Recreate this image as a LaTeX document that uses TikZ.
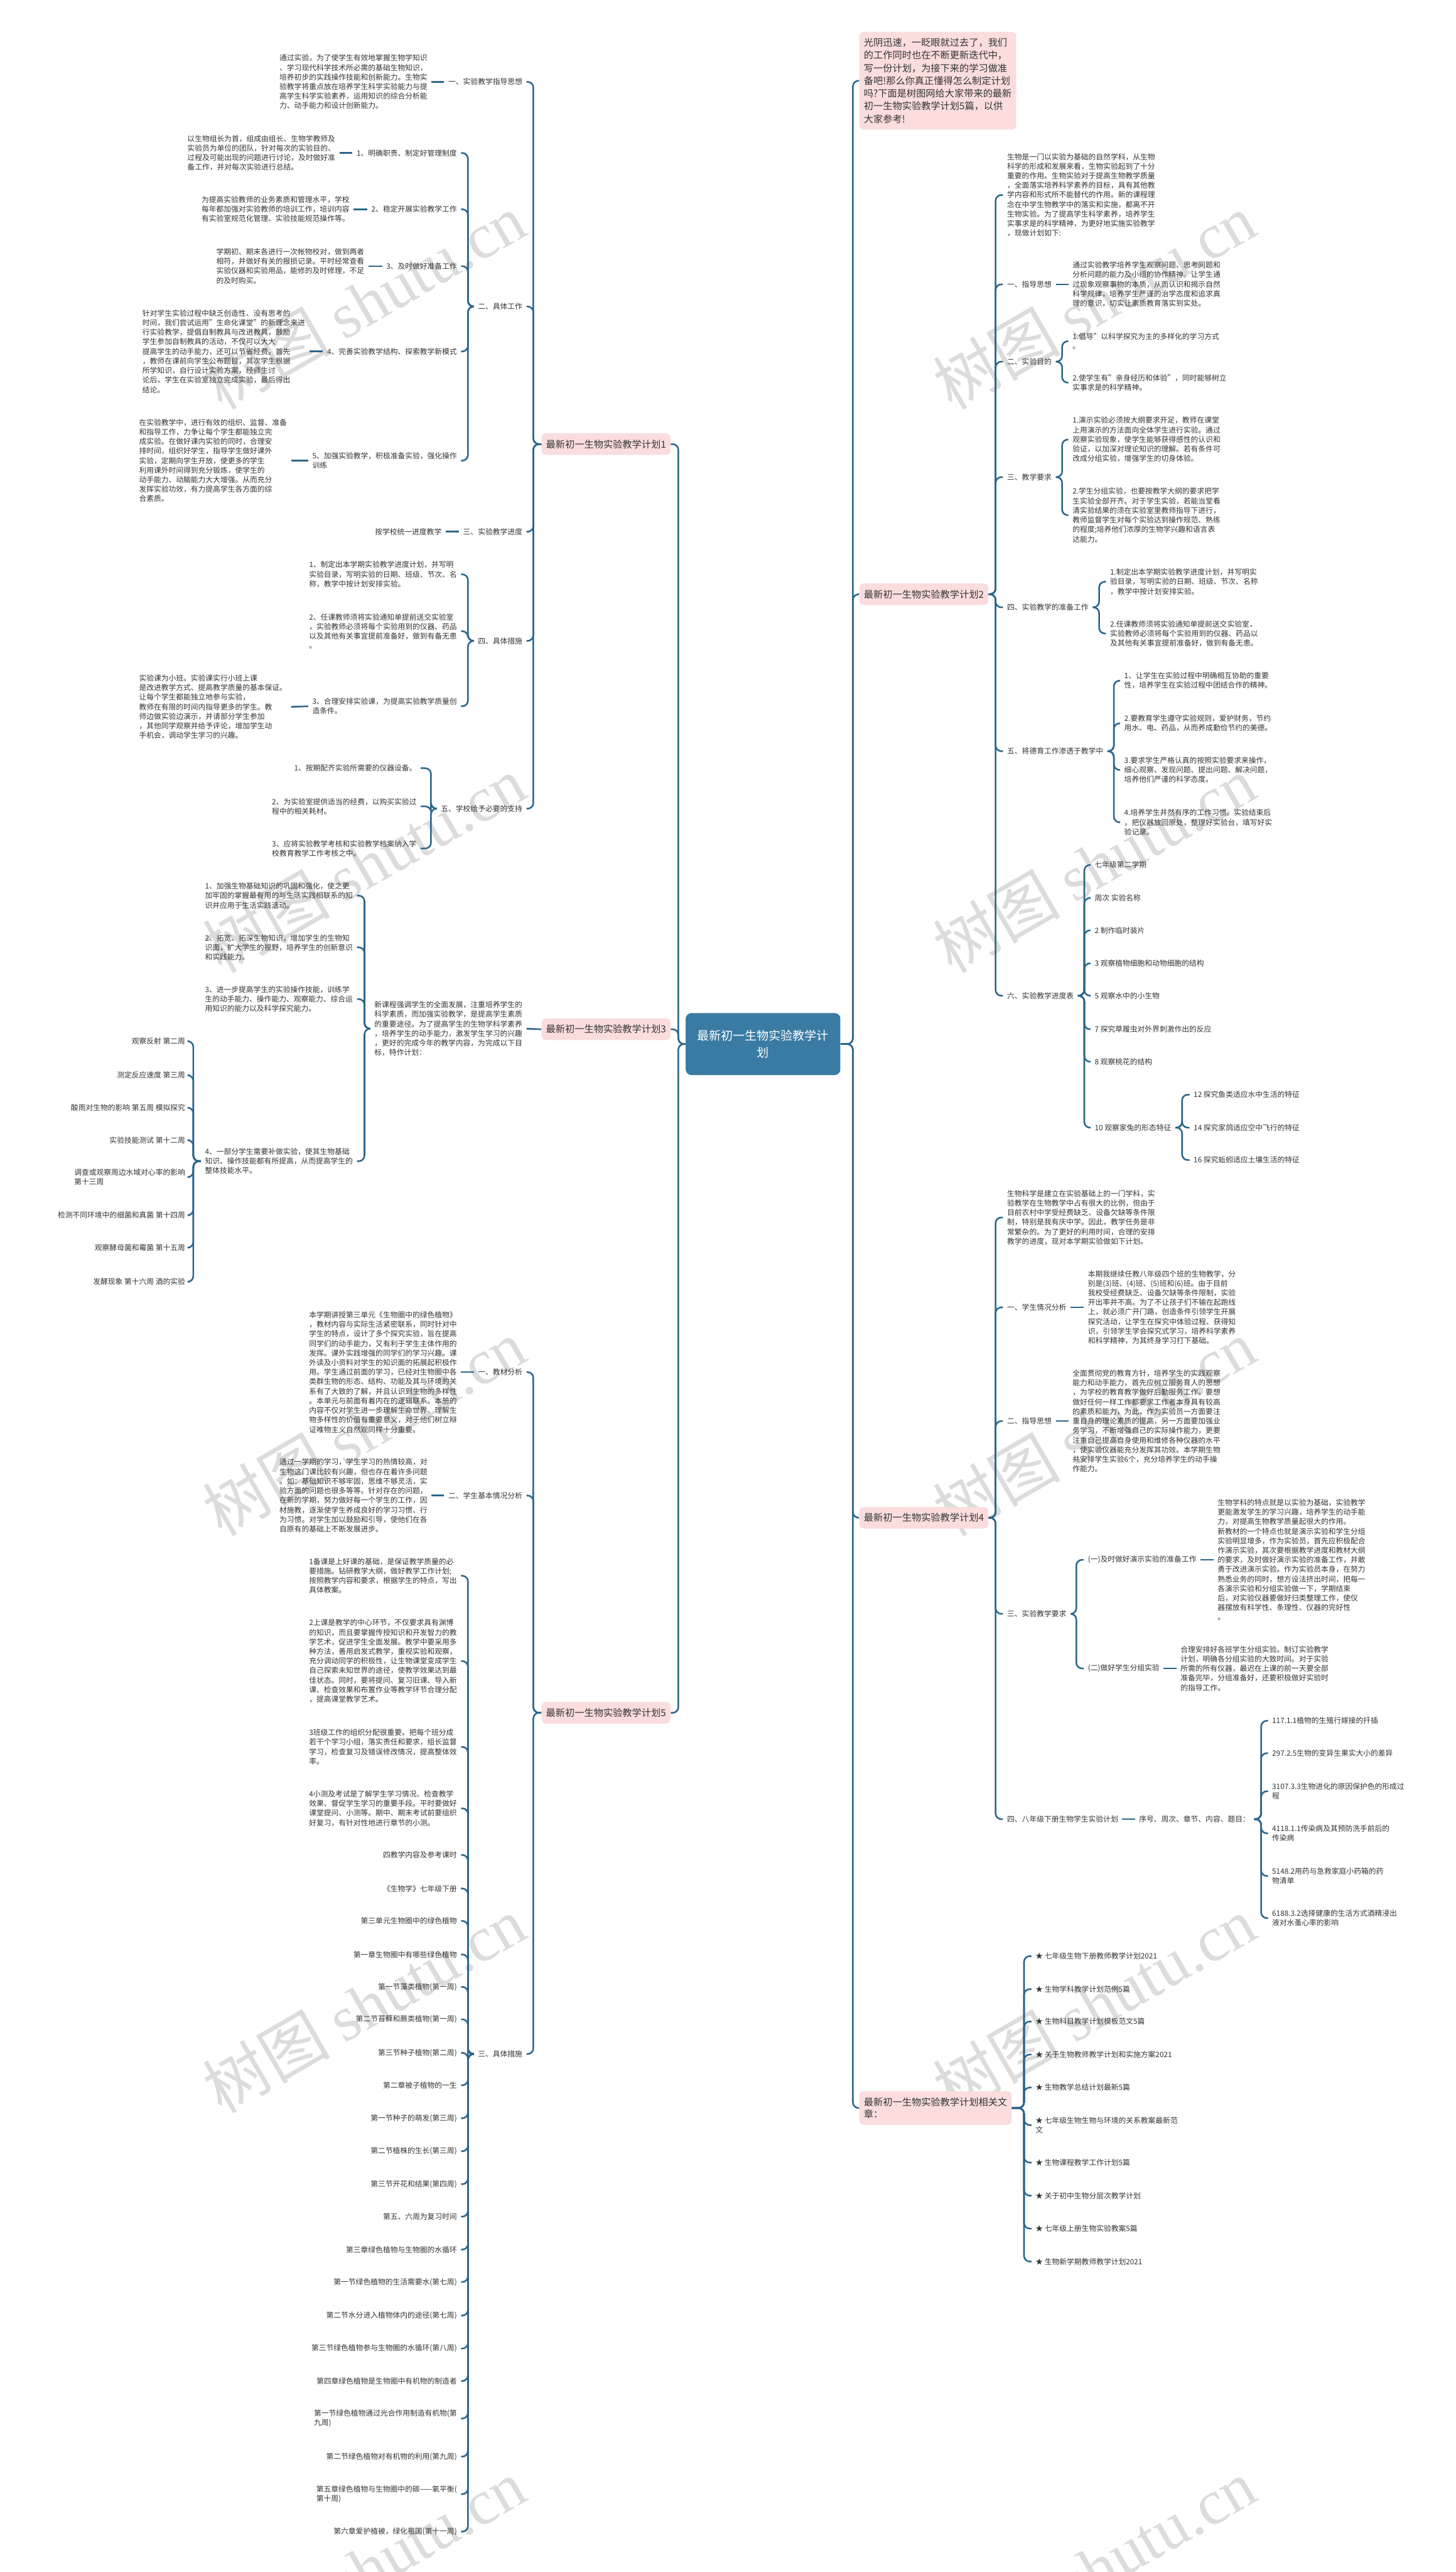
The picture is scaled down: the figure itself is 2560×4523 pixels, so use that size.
\documentclass[tikz,border=0pt]{standalone}
\usepackage{fontspec}
\setmainfont{Noto Sans CJK SC}
\newfontfamily\wmlat{Liberation Serif}
\usetikzlibrary{calc}
\definecolor{linkc}{RGB}{44,101,138}
\definecolor{txtc}{RGB}{51,51,51}
\definecolor{pinkc}{RGB}{251,221,221}
\definecolor{cenc}{RGB}{58,123,163}
\definecolor{wmc}{RGB}{220,220,220}
\tikzset{
  t/.style={font=\fontsize{6.5pt}{8.4pt}\selectfont, text=txtc, align=left, inner xsep=3.5pt, inner ysep=1pt},
  pink/.style={fill=pinkc, rounded corners=4pt, font=\fontsize{8.4pt}{11.2pt}\selectfont, text=txtc, align=left, inner xsep=4pt, inner ysep=0pt, minimum height=19pt},
  cen/.style={fill=cenc, text=white, rounded corners=5pt, align=center, font=\fontsize{10.5pt}{15pt}\selectfont, minimum width=136pt, minimum height=54.5pt, inner sep=0pt},
  link/.style={draw=linkc, line width=1.4pt, rounded corners=5pt},
  wm/.style={text=wmc, rotate=30, font=\fontsize{56pt}{60pt}\selectfont, inner sep=0pt}
}
\newcommand\lkL[3]{\draw[link] (#1.west) -- (#1.west -| #2) |- (#3.east);}
\newcommand\lkR[3]{\draw[link] (#1.east) -- (#1.east -| #2) |- (#3.west);}
\newcommand\lsL[2]{\draw[link] (#1.west) -- (#2.east);}
\newcommand\lsR[2]{\draw[link] (#1.east) -- (#2.west);}
\begin{document}
\begin{tikzpicture}[x=0.5pt,y=-0.5pt]
\useasboundingbox (0,0) rectangle (2560,4523);
\fill[white] (0,0) rectangle (2560,4523);
% watermarks
\foreach \wy [count=\i] in {530,1520,2510,3525,4515}{
  \node[wm] (wl\i) at (640,\wy) {树图 {\wmlat shutu.cn}};
  \node[wm] (wr\i) at (1924,\wy) {树图 {\wmlat shutu.cn}};
}
% buses
\coordinate (bLm) at (1193,0); \coordinate (bRm) at (1500,0);
\coordinate (b1) at (938,0); \coordinate (b1b) at (823,0); \coordinate (b1e) at (758,0);
\coordinate (b3) at (641,0); \coordinate (b3d) at (340,0);
\coordinate (b5c) at (823,0);
\coordinate (b2) at (1751,0); \coordinate (b2b) at (1868,0); \coordinate (b2d) at (1933,0);
\coordinate (b2e) at (1959,0); \coordinate (b2f) at (1907,0); \coordinate (b2g) at (2079,0);
\coordinate (b4c) at (1893,0); \coordinate (b4d) at (2218,0); \coordinate (b6) at (1801,0);

% central
\node[cen] (C) at (1342,1836) {最新初一生物实验教学计\\划};

% main branches
\node[pink, anchor=west] (B1) at (952,781) {最新初一生物实验教学计划1};
\node[pink, anchor=west] (B3) at (952,1810) {最新初一生物实验教学计划3};
\node[pink, anchor=west] (B5) at (952,3012) {最新初一生物实验教学计划5};
\node[pink, anchor=west, inner ysep=5.5pt] (N) at (1511,142) {光阴迅速，一眨眼就过去了，我们\\的工作同时也在不断更新迭代中，\\写一份计划，为接下来的学习做准\\备吧!那么你真正懂得怎么制定计划\\吗?下面是树图网给大家带来的最新\\初一生物实验教学计划5篇，以供\\大家参考!};
\node[pink, anchor=west] (B2) at (1511,1045) {最新初一生物实验教学计划2};
\node[pink, anchor=west] (B4) at (1511,2669) {最新初一生物实验教学计划4};
\node[pink, anchor=west, minimum height=29.5pt, font=\fontsize{8.4pt}{10.7pt}\selectfont] (B6) at (1511,3707) {最新初一生物实验教学计划相关文\\章：};
\lkL{C}{bLm}{B1} \lkL{C}{bLm}{B3} \lkL{C}{bLm}{B5}
\lkR{C}{bRm}{N} \lkR{C}{bRm}{B2} \lkR{C}{bRm}{B4} \lkR{C}{bRm}{B6}

% ===== plan 1 =====
\node[t, anchor=east] (a1) at (926,144) {一、实验教学指导思想};
\node[t, anchor=east] (a1p) at (759,144) {通过实验，为了使学生有效地掌握生物学知识\\、学习现代科学技术所必需的基础生物知识，\\培养初步的实践操作技能和创新能力。生物实\\验教学将重点放在培养学生科学实验能力与提\\高学生科学实验素养，运用知识的综合分析能\\力、动手能力和设计创新能力。};
\lkL{B1}{b1}{a1} \lsL{a1}{a1p}
\node[t, anchor=east] (a2) at (926,539) {二、具体工作};
\lkL{B1}{b1}{a2}
\node[t, anchor=east] (a2c1) at (811,269) {1、明确职责、制定好管理制度};
\node[t, anchor=east] (a2p1) at (597,269) {以生物组长为首，组成由组长、生物学教师及\\实验员为单位的团队，针对每次的实验目的、\\过程及可能出现的问题进行讨论，及时做好准\\备工作，并对每次实验进行总结。};
\node[t, anchor=east] (a2c2) at (811,368) {2、稳定开展实验教学工作};
\node[t, anchor=east] (a2p2) at (622,368) {为提高实验教师的业务素质和管理水平，学校\\每年都加强对实验教师的培训工作，培训内容\\有实验室规范化管理、实验技能规范操作等。};
\node[t, anchor=east] (a2c3) at (811,468) {3、及时做好准备工作};
\node[t, anchor=east] (a2p3) at (648,468) {学期初、期末各进行一次帐物校对，做到两者\\相符，并做好有关的报损记录。平时经常查看\\实验仪器和实验用品，能修的及时修理，不足\\的及时购买。};
\node[t, anchor=east] (a2c4) at (811,618) {4、完善实验教学结构、探索教学新模式};
\node[t, anchor=east] (a2p4) at (544,618) {针对学生实验过程中缺乏创造性、没有思考的\\时间，我们尝试运用"生命化课堂"的新理念来进\\行实验教学，提倡自制教具与改进教具，鼓励\\学生参加自制教具的活动，不仅可以大大\\提高学生的动手能力，还可以节省经费。首先\\，教师在课前向学生公布题目，其次学生根据\\所学知识，自行设计实验方案，经师生讨\\论后，学生在实验室独立完成实验，最后得出\\结论。};
\node[t, anchor=east] (a2c5) at (811,810) {5、加强实验教学，积极准备实验，强化操作\\训练};
\node[t, anchor=east] (a2p5) at (512,810) {在实验教学中，进行有效的组织、监督、准备\\和指导工作，力争让每个学生都能独立完\\成实验。在做好课内实验的同时，合理安\\排时间，组织好学生，指导学生做好课外\\实验，定期向学生开放，使更多的学生\\利用课外时间得到充分锻炼，使学生的\\动手能力、动脑能力大大增强。从而充分\\发挥实验功效，有力提高学生各方面的综\\合素质。};
\foreach \k in {1,...,5}{\lkL{a2}{b1b}{a2c\k} \lsL{a2c\k}{a2p\k}}
\node[t, anchor=east] (a3) at (926,935) {三、实验教学进度};
\node[t, anchor=east] (a3p) at (784,935) {按学校统一进度教学};
\lkL{B1}{b1}{a3} \lsL{a3}{a3p}
\node[t, anchor=east] (a4) at (926,1127) {四、具体措施};
\lkL{B1}{b1}{a4}
\node[t, anchor=east] (a4c1) at (811,1010) {1、制定出本学期实验教学进度计划，并写明\\实验目录，写明实验的日期、班级、节次、名\\称，教学中按计划安排实验。};
\node[t, anchor=east] (a4c2) at (811,1110) {2、任课教师须将实验通知单提前送交实验室\\，实验教师必须将每个实验用到的仪器、药品\\以及其他有关事宜提前准备好，做到有备无患\\。};
\node[t, anchor=east] (a4c3) at (811,1242) {3、合理安排实验课，为提高实验教学质量创\\造条件。};
\node[t, anchor=east] (a4p3) at (512,1243) {实验课为小班。实验课实行小班上课\\是改进教学方式、提高教学质量的基本保证。\\让每个学生都能独立地参与实验，\\教师在有限的时间内指导更多的学生。教\\师边做实验边演示，并请部分学生参加\\，其他同学观察并给予评论，增加学生动\\手机会，调动学生学习的兴趣。};
\foreach \k in {1,2,3}{\lkL{a4}{b1b}{a4c\k}}
\lsL{a4c3}{a4p3}
\node[t, anchor=east] (a5) at (926,1422) {五、学校给予必要的支持};
\lkL{B1}{b1}{a5}
\node[t, anchor=east] (a5c1) at (740,1351) {1、按期配齐实验所需要的仪器设备。};
\node[t, anchor=east] (a5c2) at (740,1418) {2、为实验室提供适当的经费，以购买实验过\\程中的相关耗材。};
\node[t, anchor=east] (a5c3) at (740,1492) {3、应将实验教学考核和实验教学档案纳入学\\校教育教学工作考核之中。};
\foreach \k in {1,2,3}{\lkL{a5}{b1e}{a5c\k}}

% ===== plan 3 =====
\node[t, anchor=east] (c0) at (926,1809) {新课程强调学生的全面发展，注重培养学生的\\科学素质，而加强实验教学，是提高学生素质\\的重要途径。为了提高学生的生物学科学素养\\，培养学生的动手能力，激发学生学习的兴趣\\，更好的完成今年的教学内容，为完成以下目\\标，特作计划：};
\lsL{B3}{c0}
\node[t, anchor=east] (c1) at (628,1575) {1、加强生物基础知识的巩固和强化，使之更\\加牢固的掌握最有用的与生活实践相联系的知\\识并应用于生活实践活动。};
\node[t, anchor=east] (c2) at (628,1666) {2、拓宽、拓深生物知识，增加学生的生物知\\识面，扩大学生的视野，培养学生的创新意识\\和实践能力。};
\node[t, anchor=east] (c3) at (628,1757) {3、进一步提高学生的实验操作技能，训练学\\生的动手能力、操作能力、观察能力、综合运\\用知识的能力以及科学探究能力。};
\node[t, anchor=east] (c4) at (628,2042) {4、一部分学生需要补做实验，使其生物基础\\知识、操作技能都有所提高，从而提高学生的\\整体技能水平。};
\foreach \k in {1,...,4}{\lkL{c0}{b3}{c\k}}
\node[t, anchor=east] (d1) at (333,1831) {观察反射 第二周};
\node[t, anchor=east] (d2) at (333,1891) {测定反应速度 第三周};
\node[t, anchor=east] (d3) at (333,1948) {酸雨对生物的影响 第五周 模拟探究};
\node[t, anchor=east] (d4) at (333,2005) {实验技能测试 第十二周};
\node[t, anchor=east] (d5) at (333,2070) {调查或观察周边水域对心率的影响\\第十三周};
\node[t, anchor=east] (d6) at (333,2137) {检测不同环境中的细菌和真菌 第十四周};
\node[t, anchor=east] (d7) at (333,2194) {观察酵母菌和霉菌 第十五周};
\node[t, anchor=east] (d8) at (333,2254) {发酵现象 第十六周 酒的实验};
\foreach \k in {1,...,8}{\lkL{c4}{b3d}{d\k}}

% ===== plan 5 =====
\node[t, anchor=east] (e1) at (926,2413) {一、教材分析};
\node[t, anchor=east] (e1p) at (811,2413) {本学期讲授第三单元《生物圈中的绿色植物》\\，教材内容与实际生活紧密联系，同时针对中\\学生的特点，设计了多个探究实验，旨在提高\\同学们的动手能力，又有利于学生主体作用的\\发挥。课外实践增强的同学们的学习兴趣。课\\外读及小资料对学生的知识面的拓展起积极作\\用。学生通过前面的学习，已经对生物圈中各\\类群生物的形态、结构、功能及其与环境的关\\系有了大致的了解，并且认识到生物的多样性\\。本单元与前面有着内在的逻辑联系。本册的\\内容不仅对学生进一步理解生命世界、理解生\\物多样性的价值有重要意义，对于他们树立辩\\证唯物主义自然观同样十分重要。};
\lkL{B5}{b1}{e1} \lsL{e1}{e1p}
\node[t, anchor=east] (e2) at (926,2630) {二、学生基本情况分析};
\node[t, anchor=east] (e2p) at (759,2630) {通过一学期的学习，学生学习的热情较高，对\\生物这门课比较有兴趣，但也存在着许多问题\\。如：基础知识不够牢固，思维不够灵活，实\\验方面的问题也很多等等。针对存在的问题，\\在新的学期，努力做好每一个学生的工作，因\\材施教，逐渐使学生养成良好的学习习惯、行\\为习惯。对学生加以鼓励和引导，使他们在各\\自原有的基础上不断发展进步。};
\lkL{B5}{b1}{e2} \lsL{e2}{e2p}
\node[t, anchor=east] (e3) at (926,3612) {三、具体措施};
\lkL{B5}{b1}{e3}
\node[t, anchor=east] (f1) at (811,2771) {1备课是上好课的基础，是保证教学质量的必\\要措施。钻研教学大纲，做好教学工作计划;\\按照教学内容和要求，根据学生的特点，写出\\具体教案。};
\node[t, anchor=east] (f2) at (811,2921) {2上课是教学的中心环节，不仅要求具有渊博\\的知识，而且要掌握传授知识和开发智力的教\\学艺术，促进学生全面发展。教学中要采用多\\种方法，善用启发式教学，重视实验和观察，\\充分调动同学的积极性，让生物课堂变成学生\\自己探索未知世界的途径，使教学效果达到最\\佳状态。同时，要将提问、复习旧课、导入新\\课、检查效果和布置作业等教学环节合理分配\\，提高课堂教学艺术。};
\node[t, anchor=east] (f3) at (811,3072) {3班级工作的组织分配很重要。把每个班分成\\若干个学习小组，落实责任和要求，组长监督\\学习，检查复习及错误修改情况，提高整体效\\率。};
\node[t, anchor=east] (f4) at (811,3180) {4小测及考试是了解学生学习情况、检查教学\\效果、督促学生学习的重要手段。平时要做好\\课堂提问、小测等。期中、期末考试前要组织\\好复习，有针对性地进行章节的小测。};
\node[t, anchor=east] (f5) at (811,3262) {四教学内容及参考课时};
\node[t, anchor=east] (f6) at (811,3321) {《生物学》七年级下册};
\node[t, anchor=east] (f7) at (811,3378) {第三单元生物圈中的绿色植物};
\node[t, anchor=east] (f8) at (811,3437) {第一章生物圈中有哪些绿色植物};
\node[t, anchor=east] (f9) at (811,3494) {第一节藻类植物(第一周)};
\node[t, anchor=east] (f10) at (811,3551) {第二节苔藓和蕨类植物(第一周)};
\node[t, anchor=east] (f11) at (811,3610) {第三节种子植物(第二周)};
\node[t, anchor=east] (f12) at (811,3667) {第二章被子植物的一生};
\node[t, anchor=east] (f13) at (811,3725) {第一节种子的萌发(第三周)};
\node[t, anchor=east] (f14) at (811,3783) {第二节植株的生长(第三周)};
\node[t, anchor=east] (f15) at (811,3841) {第三节开花和结果(第四周)};
\node[t, anchor=east] (f16) at (811,3898) {第五、六周为复习时间};
\node[t, anchor=east] (f17) at (811,3956) {第三章绿色植物与生物圈的水循环};
\node[t, anchor=east] (f18) at (811,4013) {第一节绿色植物的生活需要水(第七周)};
\node[t, anchor=east] (f19) at (811,4072) {第二节水分进入植物体内的途径(第七周)};
\node[t, anchor=east] (f20) at (811,4130) {第三节绿色植物参与生物圈的水循环(第八周)};
\node[t, anchor=east] (f21) at (811,4187) {第四章绿色植物是生物圈中有机物的制造者};
\node[t, anchor=east] (f22) at (811,4253) {第一节绿色植物通过光合作用制造有机物(第\\九周)};
\node[t, anchor=east] (f23) at (811,4320) {第二节绿色植物对有机物的利用(第九周)};
\node[t, anchor=east] (f24) at (811,4386) {第五章绿色植物与生物圈中的碳——氧平衡(\\第十周)};
\node[t, anchor=east] (f25) at (811,4452) {第六章爱护植被，绿化祖国(第十一周)};
\foreach \k in {1,...,25}{\lkL{e3}{b5c}{f\k}}

% ===== plan 2 =====
\node[t, anchor=west] (r0) at (1764,343) {生物是一门以实验为基础的自然学科，从生物\\科学的形成和发展来看，生物实验起到了十分\\重要的作用。生物实验对于提高生物教学质量\\，全面落实培养科学素养的目标，具有其他教\\学内容和形式所不能替代的作用。新的课程理\\念在中学生物教学中的落实和实施，都离不开\\生物实验。为了提高学生科学素养，培养学生\\实事求是的科学精神，为更好地实施实验教学\\，现做计划如下:};
\lkR{B2}{b2}{r0}
\node[t, anchor=west] (r1) at (1764,500) {一、指导思想};
\node[t, anchor=west] (r1p) at (1879,500) {通过实验教学培养学生观察问题、思考问题和\\分析问题的能力及小组的协作精神。让学生通\\过现象观察事物的本质，从而认识和揭示自然\\科学规律，培养学生严谨的治学态度和追求真\\理的意识，切实让素质教育落实到实处。};
\lkR{B2}{b2}{r1} \lsR{r1}{r1p}
\node[t, anchor=west] (r2) at (1764,636) {二、实验目的};
\node[t, anchor=west] (r2a) at (1879,600) {1.倡导"以科学探究为主的多样化的学习方式\\。};
\node[t, anchor=west] (r2b) at (1879,673) {2.使学生有"亲身经历和体验"，同时能够树立\\实事求是的科学精神。};
\lkR{B2}{b2}{r2} \lkR{r2}{b2b}{r2a} \lkR{r2}{b2b}{r2b}
\node[t, anchor=west] (r3) at (1764,839) {三、教学要求};
\node[t, anchor=west] (r3a) at (1879,773) {1.演示实验必须按大纲要求开足，教师在课堂\\上用演示的方法面向全体学生进行实验。通过\\观察实验现象，使学生能够获得感性的认识和\\验证，以加深对理论知识的理解。若有条件可\\改成分组实验，增强学生的切身体验。};
\node[t, anchor=west] (r3b) at (1879,906) {2.学生分组实验，也要按教学大纲的要求把学\\生实验全部开齐。对于学生实验，若能当堂看\\清实验结果的须在实验室里教师指导下进行，\\教师监督学生对每个实验达到操作规范、熟练\\的程度;培养他们浓厚的生物学兴趣和语言表\\达能力。};
\lkR{B2}{b2}{r3} \lkR{r3}{b2b}{r3a} \lkR{r3}{b2b}{r3b}
\node[t, anchor=west] (r4) at (1764,1068) {四、实验教学的准备工作};
\node[t, anchor=west] (r4a) at (1945,1023) {1.制定出本学期实验教学进度计划，并写明实\\验目录，写明实验的日期、班级、节次、名称\\，教学中按计划安排实验。};
\node[t, anchor=west] (r4b) at (1945,1114) {2.任课教师须将实验通知单提前送交实验室，\\实验教师必须将每个实验用到的仪器、药品以\\及其他有关事宜提前准备好，做到有备无患。};
\lkR{B2}{b2}{r4} \lkR{r4}{b2d}{r4a} \lkR{r4}{b2d}{r4b}
\node[t, anchor=west] (r5) at (1764,1321) {五、将德育工作渗透于教学中};
\node[t, anchor=west] (r5a) at (1970,1197) {1、让学生在实验过程中明确相互协助的重要\\性，培养学生在实验过程中团结合作的精神。};
\node[t, anchor=west] (r5b) at (1970,1272) {2.要教育学生遵守实验规则，爱护财务，节约\\用水、电、药品，从而养成勤俭节约的美德。};
\node[t, anchor=west] (r5c) at (1970,1354) {3.要求学生严格认真的按照实验要求来操作，\\细心观察、发现问题、提出问题、解决问题，\\培养他们严谨的科学态度。};
\node[t, anchor=west] (r5d) at (1970,1446) {4.培养学生井然有序的工作习惯。实验结束后\\，把仪器放回原处，整理好实验台，填写好实\\验记录。};
\lkR{B2}{b2}{r5}
\foreach \k in {a,b,c,d}{\lkR{r5}{b2e}{r5\k}}
\node[t, anchor=west] (r6) at (1764,1751) {六、实验教学进度表};
\lkR{B2}{b2}{r6}
\node[t, anchor=west] (r6a) at (1918,1521) {七年级第二学期};
\node[t, anchor=west] (r6b) at (1918,1579) {周次 实验名称};
\node[t, anchor=west] (r6c) at (1918,1636) {2 制作临时装片};
\node[t, anchor=west] (r6d) at (1918,1694) {3 观察植物细胞和动物细胞的结构};
\node[t, anchor=west] (r6e) at (1918,1751) {5 观察水中的小生物};
\node[t, anchor=west] (r6f) at (1918,1810) {7 探究草履虫对外界刺激作出的反应};
\node[t, anchor=west] (r6g) at (1918,1867) {8 观察桃花的结构};
\node[t, anchor=west] (r6h) at (1918,1983) {10 观察家兔的形态特征};
\foreach \k in {a,b,c,d,e,f,g,h}{\lkR{r6}{b2f}{r6\k}}
\node[t, anchor=west] (r6h1) at (2092,1925) {12 探究鱼类适应水中生活的特征};
\node[t, anchor=west] (r6h2) at (2092,1983) {14 探究家鸽适应空中飞行的特征};
\node[t, anchor=west] (r6h3) at (2092,2040) {16 探究蚯蚓适应土壤生活的特征};
\foreach \k in {1,2,3}{\lkR{r6h}{b2g}{r6h\k}}

% ===== plan 4 =====
\node[t, anchor=west] (s0) at (1764,2141) {生物科学是建立在实验基础上的一门学科，实\\验教学在生物教学中占有很大的比例，但由于\\目前农村中学受经费缺乏、设备欠缺等条件限\\制，特别是我有庆中学。因此，教学任务是非\\常繁杂的。为了更好的利用时间，合理的安排\\教学的进度，现对本学期实验做如下计划。};
\lkR{B4}{b2}{s0}
\node[t, anchor=west] (s1) at (1764,2299) {一、学生情况分析};
\node[t, anchor=west] (s1p) at (1906,2299) {本期我继续任教八年级四个班的生物教学，分\\别是(3)班、(4)班、(5)班和(6)班。由于目前\\我校受经费缺乏、设备欠缺等条件限制，实验\\开出率并不高。为了不让孩子们不输在起跑线\\上，就必须广开门路，创造条件引领学生开展\\探究活动，让学生在探究中体验过程、获得知\\识，引领学生学会探究式学习，培养科学素养\\和科学精神，为其终身学习打下基础。};
\lkR{B4}{b2}{s1} \lsR{s1}{s1p}
\node[t, anchor=west] (s2) at (1764,2499) {二、指导思想};
\node[t, anchor=west] (s2p) at (1879,2499) {全面贯彻党的教育方针，培养学生的实践观察\\能力和动手能力，首先应树立服务育人的思想\\，为学校的教育教学做好后勤服务工作。要想\\做好任何一样工作都要求工作者本身具有较高\\的素质和能力，为此，作为实验员一方面要注\\重自身的理论素质的提高，另一方面要加强业\\务学习，不断增强自己的实际操作能力，更要\\注重自己提高自身使用和维修各种仪器的水平\\，使实验仪器能充分发挥其功效。本学期生物\\共安排学生实验6个，充分培养学生的动手操\\作能力。};
\lkR{B4}{b2}{s2} \lsR{s2}{s2p}
\node[t, anchor=west] (s3) at (1764,2838) {三、实验教学要求};
\lkR{B4}{b2}{s3}
\node[t, anchor=west] (s3a) at (1906,2743) {(一)及时做好演示实验的准备工作};
\node[t, anchor=west] (s3ap) at (2134,2743) {生物学科的特点就是以实验为基础，实验教学\\更能激发学生的学习兴趣，培养学生的动手能\\力，对提高生物教学质量起很大的作用。\\新教材的一个特点也就是演示实验和学生分组\\实验明显增多，作为实验员，首先应积极配合\\作演示实验，其次要根据教学进度和教材大纲\\的要求，及时做好演示实验的准备工作，并敢\\勇于改进演示实验。作为实验员本身，在努力\\熟悉业务的同时，想方设法挤出时间，把每一\\各演示实验和分组实验做一下，学期结束\\后，对实验仪器要做好归类整理工作，使仪\\器摆放有科学性、条理性、仪器的完好性\\。};
\node[t, anchor=west] (s3b) at (1906,2934) {(二)做好学生分组实验};
\node[t, anchor=west] (s3bp) at (2069,2934) {合理安排好各班学生分组实验。制订实验教学\\计划，明确各分组实验的大致时间。对于实验\\所需的所有仪器，最迟在上课的前一天要全部\\准备完毕，分组准备好，还要积极做好实验时\\的指导工作。};
\lkR{s3}{b4c}{s3a} \lkR{s3}{b4c}{s3b} \lsR{s3a}{s3ap} \lsR{s3b}{s3bp}
\node[t, anchor=west] (s4) at (1764,3199) {四、八年级下册生物学生实验计划};
\node[t, anchor=west] (s4a) at (1996,3199) {序号、周次、章节、内容、题目：};
\lkR{B4}{b2}{s4} \lsR{s4}{s4a}
\node[t, anchor=west] (g1) at (2230,3026) {117.1.1植物的生殖行嫁接的扦插};
\node[t, anchor=west] (g2) at (2230,3083) {297.2.5生物的变异生果实大小的差异};
\node[t, anchor=west] (g3) at (2230,3150) {3107.3.3生物进化的原因保护色的形成过\\程};
\node[t, anchor=west] (g4) at (2230,3224) {4118.1.1传染病及其预防洗手前后的\\传染病};
\node[t, anchor=west] (g5) at (2230,3299) {5148.2用药与急救家庭小药箱的药\\物清单};
\node[t, anchor=west] (g6) at (2230,3373) {6188.3.2选择健康的生活方式酒精浸出\\液对水蚤心率的影响};
\foreach \k in {1,...,6}{\lkR{s4a}{b4d}{g\k}}

% ===== related =====
\node[t, anchor=west] (h1) at (1814,3440) {★ 七年级生物下册教师教学计划2021};
\node[t, anchor=west] (h2) at (1814,3498) {★ 生物学科教学计划范例5篇};
\node[t, anchor=west] (h3) at (1814,3555) {★ 生物科目教学计划模板范文5篇};
\node[t, anchor=west] (h4) at (1814,3613) {★ 关于生物教师教学计划和实施方案2021};
\node[t, anchor=west] (h5) at (1814,3671) {★ 生物教学总结计划最新5篇};
\node[t, anchor=west] (h6) at (1814,3737) {★ 七年级生物生物与环境的关系教案最新范\\文};
\node[t, anchor=west] (h7) at (1814,3803) {★ 生物课程教学工作计划5篇};
\node[t, anchor=west] (h8) at (1814,3861) {★ 关于初中生物分层次教学计划};
\node[t, anchor=west] (h9) at (1814,3919) {★ 七年级上册生物实验教案5篇};
\node[t, anchor=west] (h10) at (1814,3977) {★ 生物新学期教师教学计划2021};
\foreach \k in {1,...,10}{\lkR{B6}{b6}{h\k}}
\end{tikzpicture}
\end{document}
